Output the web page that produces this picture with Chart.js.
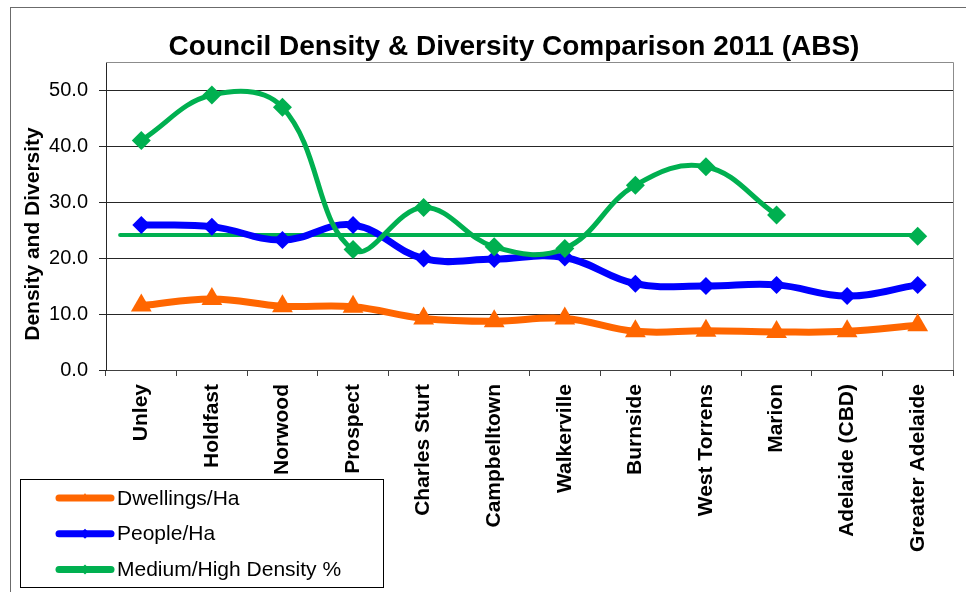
<!DOCTYPE html>
<html>
<head>
<meta charset="utf-8">
<title>Council Density &amp; Diversity Comparison 2011 (ABS)</title>
<script src="https://cdn.jsdelivr.net/npm/chart.js@4.4.1/dist/chart.umd.min.js"></script>
<style>
  html, body { margin: 0; padding: 0; background: #fff; }
  canvas { display: block; }
</style>
</head>
<body>
<canvas id="density" width="966" height="592"></canvas>
<script>
const councils = ['Unley', 'Holdfast', 'Norwood', 'Prospect', 'Charles Sturt', 'Campbelltown',
  'Walkerville', 'Burnside', 'West Torrens', 'Marion', 'Adelaide (CBD)', 'Greater Adelaide'];
const dwellingsPerHa = [11.5, 12.7, 11.4, 11.3, 9.2, 8.7, 9.2, 6.9, 7.0, 6.8, 6.9, 8.0];
const peoplePerHa = [25.9, 25.6, 23.2, 25.9, 19.9, 19.8, 20.1, 15.4, 15.0, 15.2, 13.2, 15.2];
const mediumHighPct = [41.0, 49.1, 46.9, 21.5, 29.0, 22.0, 21.7, 33.0, 36.3, 27.7, null, 23.9];

// Greater Adelaide medium/high density level, drawn as a flat reference line
const greaterAdelaidePct = 24.1;
const refLineFrom = -0.3;   // category index where the reference line starts
const refLineTo = 11;       // ...and where it ends (Greater Adelaide)

const yTicks = [0, 10, 20, 30, 40, 50];
const yMax = 55;

const chartTitle = 'Council Density & Diversity Comparison 2011 (ABS)';
const yTitle = 'Density and Diversity';

const FONT = '"Liberation Sans", Arial, sans-serif';
Chart.defaults.font.family = FONT;
Chart.defaults.color = '#000';

const orange = '#FF6600';
const blue = '#0000FF';
const green = '#00B050';

const chartFrame = {
  id: 'chartFrame',

  beforeDraw(chart) {
    const { ctx, width, height } = chart;
    ctx.save();
    ctx.fillStyle = '#fff';
    ctx.fillRect(0, 0, width, height);
    ctx.strokeStyle = '#6b6b6b';
    ctx.lineWidth = 1;
    ctx.strokeRect(10.5, 7.5, width, height);
    ctx.restore();
  },

  afterDraw(chart) {
    const { ctx, chartArea: { left, top, right, bottom } } = chart;
    ctx.save();

    // top and right edges of the plot area
    ctx.strokeStyle = '#8c8c8c';
    ctx.lineWidth = 1;
    ctx.beginPath();
    ctx.moveTo(left, top + 0.5);
    ctx.lineTo(right + 0.5, top + 0.5);
    ctx.lineTo(right + 0.5, bottom);
    ctx.stroke();

    // title
    ctx.fillStyle = '#000';
    ctx.font = 'bold 28px ' + FONT;
    ctx.textAlign = 'center';
    ctx.textBaseline = 'alphabetic';
    ctx.fillText(chartTitle, 514, 55);

    // y axis title
    ctx.save();
    ctx.translate(33, 234);
    ctx.rotate(-Math.PI / 2);
    ctx.font = 'bold 21px ' + FONT;
    ctx.textBaseline = 'middle';
    ctx.fillText(yTitle, 0, 0);
    ctx.restore();

    // legend box
    ctx.fillStyle = '#fff';
    ctx.fillRect(20.5, 479.5, 363, 108);
    ctx.strokeStyle = '#000';
    ctx.strokeRect(20.5, 479.5, 363, 108);

    const items = chart.data.datasets.filter(ds => !ds.hideInLegend);
    items.forEach((ds, i) => {
      const y = 498 + i * 35.7;
      ctx.strokeStyle = ds.borderColor;
      ctx.lineWidth = 7;
      ctx.lineCap = 'round';
      ctx.beginPath();
      ctx.moveTo(59, y);
      ctx.lineTo(111, y);
      ctx.stroke();
      ctx.fillStyle = ds.borderColor;
      ctx.lineWidth = 1;
      Chart.helpers.drawPoint(ctx, { pointStyle: ds.pointStyle, radius: 5, rotation: 0, borderWidth: 0 }, 85, y);
      ctx.fillStyle = '#000';
      ctx.font = '21px ' + FONT;
      ctx.textAlign = 'left';
      ctx.textBaseline = 'middle';
      ctx.fillText(ds.label, 117, y + 1);
    });

    ctx.restore();
  }
};

new Chart(document.getElementById('density'), {
  type: 'line',
  plugins: [chartFrame],
  data: {
    labels: councils,
    datasets: [
      {
        label: 'Dwellings/Ha',
        data: dwellingsPerHa,
        order: 3,
        borderColor: orange,
        backgroundColor: orange,
        borderWidth: 7,
        tension: 0.4,
        pointStyle: 'triangle',
        pointRadius: 12,
        pointBorderWidth: 0
      },
      {
        label: 'People/Ha',
        data: peoplePerHa,
        order: 1,
        borderColor: blue,
        backgroundColor: blue,
        borderWidth: 7,
        tension: 0.4,
        pointStyle: 'rectRot',
        pointRadius: 9,
        pointBorderWidth: 0
      },
      {
        label: 'Medium/High Density %',
        data: mediumHighPct,
        order: 0,
        borderColor: green,
        backgroundColor: green,
        borderWidth: 5,
        tension: 0.4,
        pointStyle: 'rectRot',
        pointRadius: 9.5,
        pointBorderWidth: 0
      },
      {
        label: 'Greater Adelaide',
        hideInLegend: true,
        xAxisID: 'x2',
        data: [
          { x: refLineFrom, y: greaterAdelaidePct },
          { x: refLineTo, y: greaterAdelaidePct }
        ],
        order: 2,
        borderColor: green,
        borderWidth: 4,
        pointRadius: 0,
        tension: 0
      }
    ]
  },
  options: {
    responsive: false,
    animation: false,
    events: [],
    layout: { padding: { top: 62, right: 13, bottom: 0, left: 0 } },
    elements: {
      line: { borderJoinStyle: 'round', borderCapStyle: 'round' }
    },
    plugins: {
      legend: { display: false },
      tooltip: { enabled: false }
    },
    scales: {
      x: {
        type: 'category',
        offset: true,
        grid: { offset: true, drawOnChartArea: false, tickLength: 6, color: '#404040' },
        border: { color: '#404040' },
        ticks: {
          autoSkip: false,
          minRotation: 90,
          maxRotation: 90,
          padding: 8,
          color: '#000',
          font: { size: 21, weight: 'bold' }
        },
        afterFit(scale) { scale.height = 222; }
      },
      x2: {
        type: 'linear',
        display: false,
        min: -0.5,
        max: councils.length - 0.5
      },
      y: {
        min: 0,
        max: yMax,
        afterBuildTicks(scale) { scale.ticks = yTicks.map(v => ({ value: v })); },
        grid: { color: '#262626', tickLength: 7 },
        border: { color: '#262626' },
        ticks: {
          padding: 11,
          color: '#000',
          font: { size: 20 },
          callback: v => v.toFixed(1)
        },
        afterFit(scale) { scale.width = 106; }
      }
    }
  }
});
</script>
</body>
</html>
